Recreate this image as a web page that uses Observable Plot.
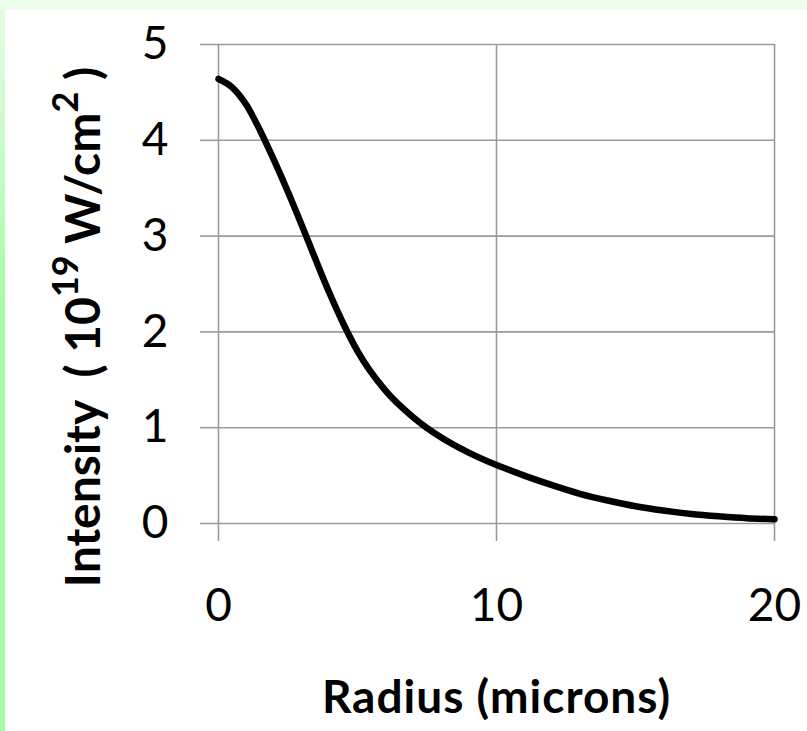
<!DOCTYPE html>
<html><head><meta charset="utf-8">
<script src="https://cdn.jsdelivr.net/npm/d3@7"></script>
<script src="https://cdn.jsdelivr.net/npm/@observablehq/plot@0.6"></script>
<style>
html,body{margin:0;padding:0;}
body{width:807px;height:731px;background:#ecfdec;position:relative;overflow:hidden;}
#edge{position:absolute;left:0;top:10px;width:5px;height:721px;background:linear-gradient(#e4fde4,#a8fba8 40%,#a8fba8);}
#chart{position:absolute;left:5px;top:10px;width:802px;height:721px;background:#fff;}
</style></head><body><div id="edge"></div><div id="chart"></div>
<script>
const radius = [0,0.5,1,1.5,2,2.5,3,3.5,4,4.5,5,6,7,8,9,10,11,12,13,14,15,16,17,18,19,20];
const intensity = [4.64,4.55,4.37,4.10,3.79,3.46,3.11,2.75,2.40,2.08,1.80,1.39,1.11,0.90,0.74,0.61,0.50,0.40,0.31,0.24,0.18,0.135,0.10,0.075,0.055,0.045];
const xTicks = [0,10,20];
const yTicks = [0,1,2,3,4,5];
const xTitle = "Radius (microns)";
const yTitleParts = ["Intensity\u00a0 (\u00a010", "19", " W/cm", "2", "\u00a0)"];

const data = radius.map((r,i)=>({r, v: intensity[i]}));
const grid = "#9a9a9a";

const plot = Plot.plot({
  width: 802, height: 721,
  marginLeft: 213, marginRight: 33, marginTop: 34, marginBottom: 208,
  style: {fontFamily: "Lato", fontSize: "46px", background: "transparent", color: "black"},
  x: {domain: [0,20]},
  y: {domain: [0,5]},
  marks: [
    Plot.gridX(xTicks, {stroke: grid, strokeOpacity: 1, strokeWidth: 1.6}),
    Plot.gridY(yTicks, {stroke: grid, strokeOpacity: 1, strokeWidth: 1.6}),
    Plot.axisX({ticks: xTicks, tickSize: 18, tickPadding: 47, stroke: grid, strokeWidth: 1.6, fill: "black", label: null, tickFormat: d => d}),
    Plot.axisY({ticks: yTicks, tickSize: 18, tickPadding: 32, stroke: grid, strokeWidth: 1.6, fill: "black", label: null, tickFormat: d => d}),
    Plot.line(data, {x: "r", y: "v", stroke: "black", strokeWidth: 6.5, curve: "monotone-x"}),
    Plot.text([xTitle], {frameAnchor: "bottom", dy: 189, text: d => d, fontWeight: "bold", fontSize: 46, fill: "black"})
  ]
});
document.getElementById("chart").appendChild(plot);
d3.select(plot).selectAll("text").filter(function(){ return this.textContent === xTitle; }).style("letter-spacing", "1px");

const svg = d3.select(plot);
const t = svg.append("text")
  .attr("transform", "translate(95,317) rotate(-90)")
  .attr("text-anchor", "middle")
  .attr("font-family", "Lato")
  .attr("font-weight", "bold")
  .attr("font-size", 48)
  .attr("fill", "black");
yTitleParts.forEach((p, i) => {
  const s = t.append("tspan").text(p);
  if (i % 2 === 1) s.attr("baseline-shift", "super").attr("font-size", 36);
});
</script>
</body></html>
